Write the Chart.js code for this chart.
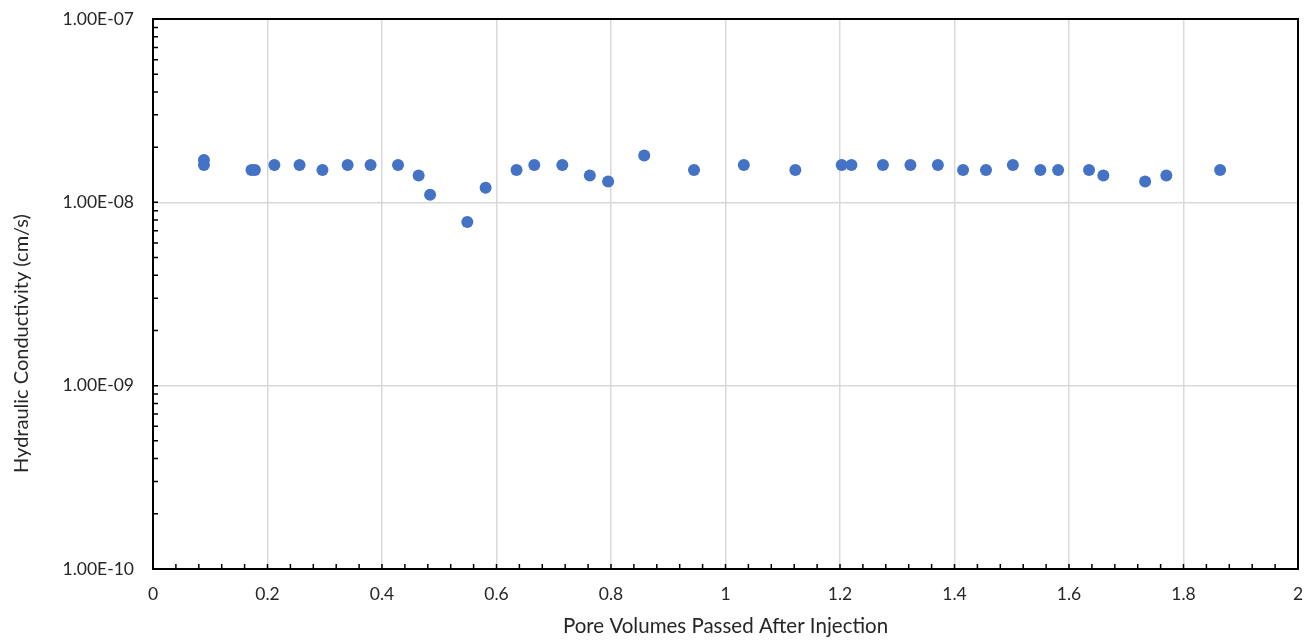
<!DOCTYPE html>
<html>
<head>
<meta charset="utf-8">
<script src="https://cdn.jsdelivr.net/npm/chart.js@4/dist/chart.umd.min.js"></script>
<style>
  html, body { margin: 0; padding: 0; background: #fff; }
  #wrap { width: 1308px; height: 643px; }
</style>
</head>
<body>
<div id="wrap"><canvas id="chart"></canvas></div>
<script>
// pore volumes passed after injection (x) and hydraulic conductivity in cm/s (y)
const poreVolumes = [
  0.089, 0.089, 0.172, 0.178, 0.212, 0.256, 0.296, 0.340, 0.380, 0.428,
  0.464, 0.484, 0.549, 0.581, 0.635, 0.666, 0.715, 0.763, 0.795, 0.858,
  0.945, 1.032, 1.122, 1.203, 1.220, 1.275, 1.323, 1.371, 1.415, 1.455,
  1.502, 1.550, 1.581, 1.635, 1.660, 1.733, 1.770, 1.864
];
const conductivity = [
  1.7e-8, 1.6e-8, 1.5e-8, 1.5e-8, 1.6e-8, 1.6e-8, 1.5e-8, 1.6e-8, 1.6e-8, 1.6e-8,
  1.4e-8, 1.1e-8, 7.8e-9, 1.2e-8, 1.5e-8, 1.6e-8, 1.6e-8, 1.4e-8, 1.3e-8, 1.8e-8,
  1.5e-8, 1.6e-8, 1.5e-8, 1.6e-8, 1.6e-8, 1.6e-8, 1.6e-8, 1.6e-8, 1.5e-8, 1.5e-8,
  1.6e-8, 1.5e-8, 1.5e-8, 1.5e-8, 1.4e-8, 1.3e-8, 1.4e-8, 1.5e-8
];
const yTickValues = [1e-10, 1e-9, 1e-8, 1e-7];
const xTitle = "Pore Volumes Passed After Injection";
const yTitle = "Hydraulic Conductivity (cm/s)";

const textColor = "#262626";
const fontFamily = "Lato, 'Open Sans', sans-serif";

function formatExp(v) {
  const exp = Math.round(Math.log10(v));
  const mant = v / Math.pow(10, exp);
  const sign = exp < 0 ? "-" : "+";
  return mant.toFixed(2) + "E" + sign + String(Math.abs(exp)).padStart(2, "0");
}

// frame around the plot area, the small inside tick marks and the y title
const framePlugin = {
  id: "frame",
  afterDatasetsDraw(chart) {
    const { ctx, chartArea: a, scales } = chart;
    ctx.save();
    ctx.strokeStyle = "#000";
    ctx.lineWidth = 1.5;
    ctx.beginPath();
    // x minor ticks every 0.04
    for (let i = 1; i < 50; i++) {
      const px = scales.x.getPixelForValue(i * 0.04);
      ctx.moveTo(px, a.bottom);
      ctx.lineTo(px, a.bottom - 5);
    }
    // y minor ticks 2..9 x 10^n
    for (let e = -10; e < -7; e++) {
      for (let m = 1; m <= 9; m++) {
        if (m === 1 && e === -10) continue;
        const py = scales.y.getPixelForValue(m * Math.pow(10, e));
        ctx.moveTo(a.left, py);
        ctx.lineTo(a.left + 5, py);
      }
    }
    ctx.stroke();
    ctx.lineWidth = 2;
    ctx.strokeRect(a.left, a.top, a.right - a.left, a.bottom - a.top);

    // y axis title sits a bit below the middle of the axis, as in the original
    ctx.translate(22, a.top + (a.bottom - a.top) * 0.59);
    ctx.rotate(-Math.PI / 2);
    ctx.fillStyle = textColor;
    ctx.font = "20px " + fontFamily;
    ctx.textAlign = "center";
    ctx.textBaseline = "middle";
    ctx.fillText(yTitle, 0, 0);
    ctx.restore();
  }
};

const points = poreVolumes.map((x, i) => ({ x: x, y: conductivity[i] }));

new Chart(document.getElementById("chart"), {
  type: "scatter",
  data: {
    datasets: [{
      data: points,
      backgroundColor: "#4472C4",
      borderWidth: 0,
      pointRadius: 6,
      pointHoverRadius: 6
    }]
  },
  options: {
    responsive: true,
    maintainAspectRatio: false,
    animation: false,
    events: [],
    layout: { padding: { left: 0, right: 10, top: 19, bottom: 0 } },
    plugins: { legend: { display: false }, tooltip: { enabled: false } },
    scales: {
      x: {
        type: "linear",
        min: 0,
        max: 2,
        afterFit(scale) {
          scale.height = 74;
          scale.paddingLeft = 0;
          scale.paddingRight = 0;
        },
        grid: { color: "#d9d9d9", lineWidth: 1.5, drawTicks: false },
        border: { display: false },
        ticks: {
          stepSize: 0.2,
          padding: 15,
          color: textColor,
          font: { family: fontFamily, size: 17.5 },
          callback: v => String(Number(v.toFixed(1)))
        },
        title: {
          display: true,
          text: xTitle,
          color: textColor,
          font: { family: fontFamily, size: 20.5 },
          padding: { top: 0, bottom: 4 }
        }
      },
      y: {
        type: "logarithmic",
        min: 1e-10,
        max: 1e-7,
        afterFit(scale) {
          scale.width = 153;
          scale.paddingTop = 0;
          scale.paddingBottom = 0;
        },
        afterBuildTicks(scale) {
          scale.ticks = yTickValues.map(v => ({ value: v, major: true }));
        },
        grid: { color: "#d9d9d9", lineWidth: 1.5, drawTicks: false },
        border: { display: false },
        ticks: {
          padding: 19,
          color: textColor,
          font: { family: fontFamily, size: 17.5 },
          callback: v => formatExp(v)
        },
        title: { display: false }
      }
    }
  },
  plugins: [framePlugin]
});
</script>
</body>
</html>
